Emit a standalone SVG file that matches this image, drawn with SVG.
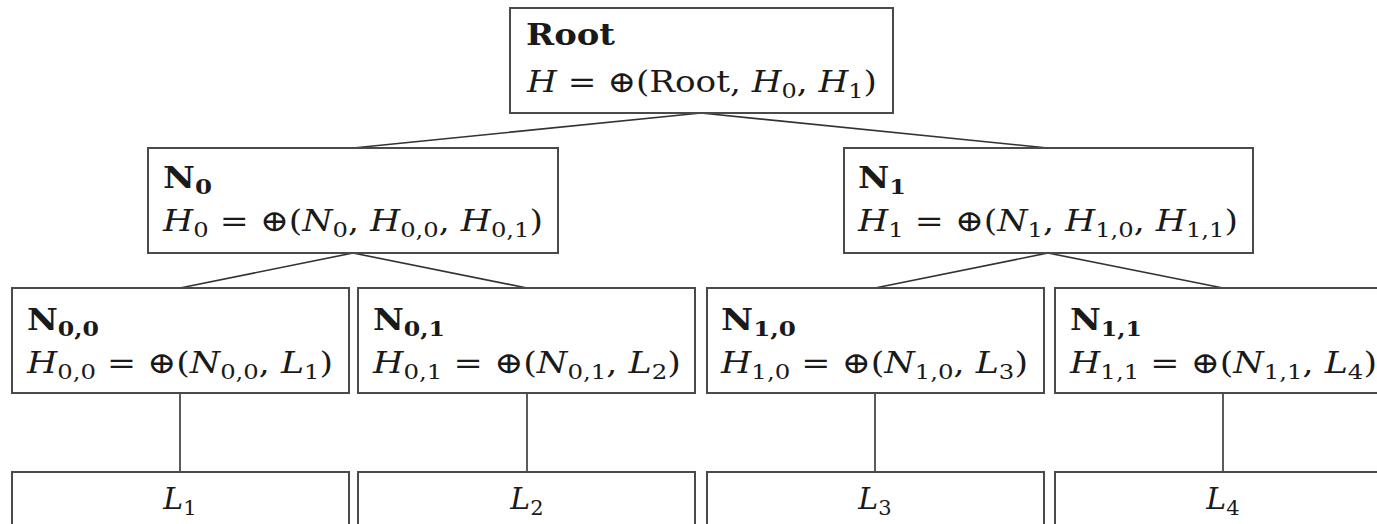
<svg xmlns="http://www.w3.org/2000/svg" width="1377" height="524" viewBox="0 0 1377 524">
<style>
.box{fill:#fff;stroke:#4a4a4a;stroke-width:2}
.edge{stroke:#333;stroke-width:1.6;fill:none}
text{font-family:"DejaVu Serif","Liberation Serif",serif;font-size:30px;fill:#1a1a1a}
.b{font-weight:bold}
.i{font-style:italic}
.s{font-size:21px}
</style>
<rect width="1377" height="524" fill="#fff"/>
<g id="connectors">
<path class="edge" d="M701 113 L353 148 M701 113 L1048 148"/>
<path class="edge" d="M353 253 L180 288 M353 253 L527 288"/>
<path class="edge" d="M1048 253 L875 288 M1048 253 L1223 288"/>
<path class="edge" d="M180 393 V472 M527 393 V472 M875 393 V472 M1223 393 V472"/>
</g>
<g id="root">
<rect class="box" x="510" y="8" width="383" height="105"/>
<text x="526" y="45" class="b" textLength="89" lengthAdjust="spacingAndGlyphs">Root</text>
<text x="527" y="92" textLength="350" lengthAdjust="spacingAndGlyphs"><tspan class="i">H</tspan> = ⊕(Root, <tspan class="i">H</tspan><tspan class="s" dy="6">0</tspan><tspan dy="-6">, </tspan><tspan class="i">H</tspan><tspan class="s" dy="6">1</tspan><tspan dy="-6">)</tspan></text>
</g>
<g id="n0">
<rect class="box" x="148" y="148" width="410" height="105"/>
<text x="163" y="188" class="b" textLength="49" lengthAdjust="spacingAndGlyphs">N<tspan class="s" dy="6">0</tspan></text>
<text x="163" y="231" textLength="380" lengthAdjust="spacingAndGlyphs"><tspan class="i">H</tspan><tspan class="s" dy="6">0</tspan><tspan dy="-6"> = ⊕(</tspan><tspan class="i">N</tspan><tspan class="s" dy="6">0</tspan><tspan dy="-6">, </tspan><tspan class="i">H</tspan><tspan class="s" dy="6">0,0</tspan><tspan dy="-6">, </tspan><tspan class="i">H</tspan><tspan class="s" dy="6">0,1</tspan><tspan dy="-6">)</tspan></text>
</g>
<g id="n1">
<rect class="box" x="844" y="148" width="409" height="105"/>
<text x="858" y="188" class="b" textLength="48" lengthAdjust="spacingAndGlyphs">N<tspan class="s" dy="6">1</tspan></text>
<text x="858" y="231" textLength="380" lengthAdjust="spacingAndGlyphs"><tspan class="i">H</tspan><tspan class="s" dy="6">1</tspan><tspan dy="-6"> = ⊕(</tspan><tspan class="i">N</tspan><tspan class="s" dy="6">1</tspan><tspan dy="-6">, </tspan><tspan class="i">H</tspan><tspan class="s" dy="6">1,0</tspan><tspan dy="-6">, </tspan><tspan class="i">H</tspan><tspan class="s" dy="6">1,1</tspan><tspan dy="-6">)</tspan></text>
</g>
<g id="n00">
<rect class="box" x="12" y="288" width="337" height="105"/>
<text x="27" y="330" class="b" textLength="72" lengthAdjust="spacingAndGlyphs">N<tspan class="s" dy="6">0,0</tspan></text>
<text x="27" y="373" textLength="306" lengthAdjust="spacingAndGlyphs"><tspan class="i">H</tspan><tspan class="s" dy="6">0,0</tspan><tspan dy="-6"> = ⊕(</tspan><tspan class="i">N</tspan><tspan class="s" dy="6">0,0</tspan><tspan dy="-6">, </tspan><tspan class="i">L</tspan><tspan class="s" dy="6">1</tspan><tspan dy="-6">)</tspan></text>
</g>
<g id="n01">
<rect class="box" x="358" y="288" width="337" height="105"/>
<text x="373" y="330" class="b" textLength="72" lengthAdjust="spacingAndGlyphs">N<tspan class="s" dy="6">0,1</tspan></text>
<text x="373" y="373" textLength="308" lengthAdjust="spacingAndGlyphs"><tspan class="i">H</tspan><tspan class="s" dy="6">0,1</tspan><tspan dy="-6"> = ⊕(</tspan><tspan class="i">N</tspan><tspan class="s" dy="6">0,1</tspan><tspan dy="-6">, </tspan><tspan class="i">L</tspan><tspan class="s" dy="6">2</tspan><tspan dy="-6">)</tspan></text>
</g>
<g id="n10">
<rect class="box" x="707" y="288" width="337" height="105"/>
<text x="721" y="330" class="b" textLength="75" lengthAdjust="spacingAndGlyphs">N<tspan class="s" dy="6">1,0</tspan></text>
<text x="721" y="373" textLength="307" lengthAdjust="spacingAndGlyphs"><tspan class="i">H</tspan><tspan class="s" dy="6">1,0</tspan><tspan dy="-6"> = ⊕(</tspan><tspan class="i">N</tspan><tspan class="s" dy="6">1,0</tspan><tspan dy="-6">, </tspan><tspan class="i">L</tspan><tspan class="s" dy="6">3</tspan><tspan dy="-6">)</tspan></text>
</g>
<g id="n11">
<rect class="box" x="1055" y="288" width="337" height="105"/>
<text x="1070" y="330" class="b" textLength="72" lengthAdjust="spacingAndGlyphs">N<tspan class="s" dy="6">1,1</tspan></text>
<text x="1070" y="373" textLength="307" lengthAdjust="spacingAndGlyphs"><tspan class="i">H</tspan><tspan class="s" dy="6">1,1</tspan><tspan dy="-6"> = ⊕(</tspan><tspan class="i">N</tspan><tspan class="s" dy="6">1,1</tspan><tspan dy="-6">, </tspan><tspan class="i">L</tspan><tspan class="s" dy="6">4</tspan><tspan dy="-6">)</tspan></text>
</g>
<g id="l1">
<rect class="box" x="12" y="472" width="337" height="80"/>
<text x="180" y="509" text-anchor="middle"><tspan class="i">L</tspan><tspan class="s" dy="6">1</tspan></text>
</g>
<g id="l2">
<rect class="box" x="358" y="472" width="337" height="80"/>
<text x="527" y="509" text-anchor="middle"><tspan class="i">L</tspan><tspan class="s" dy="6">2</tspan></text>
</g>
<g id="l3">
<rect class="box" x="707" y="472" width="337" height="80"/>
<text x="875" y="509" text-anchor="middle"><tspan class="i">L</tspan><tspan class="s" dy="6">3</tspan></text>
</g>
<g id="l4">
<rect class="box" x="1055" y="472" width="337" height="80"/>
<text x="1223" y="509" text-anchor="middle"><tspan class="i">L</tspan><tspan class="s" dy="6">4</tspan></text>
</g>
</svg>
